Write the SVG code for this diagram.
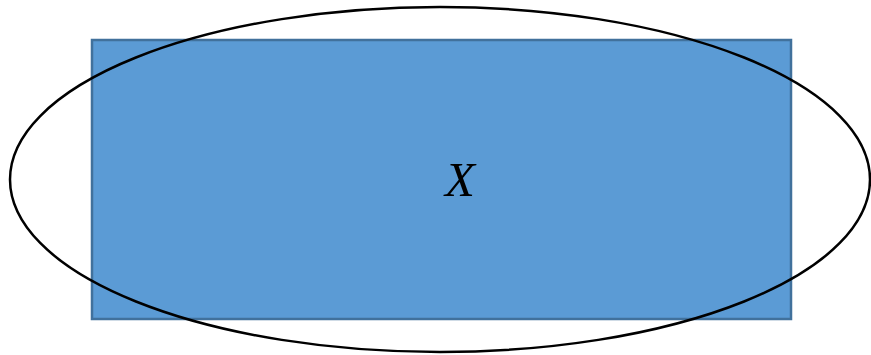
<svg xmlns="http://www.w3.org/2000/svg" width="871" height="355" viewBox="0 0 871 355">
<style>
.box{fill:#5B9BD5;stroke:#41719C;stroke-width:2.5}
.ell{fill:none;stroke:#000;stroke-width:2.5}
.lbl{font-family:"Liberation Serif","DejaVu Serif",serif;font-style:italic;font-size:49px;fill:#000}
</style>
<g id="rect">
<rect class="box" x="92" y="40" width="699" height="279"/>
</g>
<g id="ellipse">
<ellipse class="ell" cx="440" cy="179.5" rx="430" ry="172.5"/>
</g>
<g id="label">
<text class="lbl" x="460" y="196" text-anchor="middle">X</text>
</g>
</svg>
